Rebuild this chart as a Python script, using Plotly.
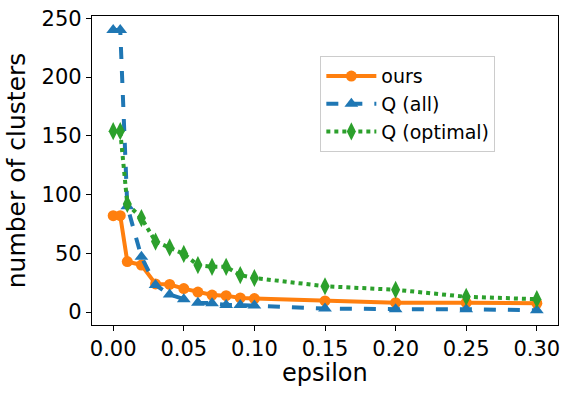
import plotly.graph_objects as go

epsilon = [0, 0.005, 0.01, 0.02, 0.03, 0.04, 0.05, 0.06, 0.07, 0.08, 0.09, 0.1, 0.15, 0.2, 0.25, 0.3]
ours = [82, 82, 43, 40, 24, 23.5, 20, 17, 14.5, 14, 12, 11.5, 9.5, 8, 8, 7.5]
q_all = [240, 240, 90, 47, 23, 15, 11, 8, 7.5, 6, 6, 5.5, 3, 2.5, 2.5, 1.5]
q_optimal = [154, 154, 92, 80, 60, 55, 49.5, 40, 38.5, 38.5, 31.5, 29, 22, 19, 13, 11]

fig = go.Figure()

fig.add_trace(go.Scatter(
    x=epsilon, y=ours, name="ours", mode="lines+markers",
    line=dict(color="#ff7f0e", width=4),
    marker=dict(symbol="circle", size=11, color="#ff7f0e"),
))
fig.add_trace(go.Scatter(
    x=epsilon, y=q_all, name="Q (all)", mode="lines+markers",
    line=dict(color="#1f77b4", width=4, dash="dash"),
    marker=dict(symbol="triangle-up", size=12, color="#1f77b4"),
))
fig.add_trace(go.Scatter(
    x=epsilon, y=q_optimal, name="Q (optimal)", mode="lines+markers",
    line=dict(color="#2ca02c", width=4, dash="dot"),
    marker=dict(symbol="diamond-tall", size=13, color="#2ca02c"),
))

axis_style = dict(
    showline=True, linecolor="black", linewidth=1.3, mirror=True,
    ticks="outside", ticklen=5, tickwidth=1.2, tickcolor="black",
    showgrid=False, zeroline=False, automargin=False,
    tickfont=dict(size=21, color="black"),
)

fig.update_xaxes(
    range=[-0.015, 0.315], tickvals=[0, 0.05, 0.1, 0.15, 0.2, 0.25, 0.3],
    ticktext=["0.00", "0.05", "0.10", "0.15", "0.20", "0.25", "0.30"],
    **axis_style,
)
fig.update_yaxes(
    range=[-11, 252], tickvals=[0, 50, 100, 150, 200, 250],
    title=dict(text="number of clusters", font=dict(size=25, color="black"), standoff=8),
    **axis_style,
)

# x title as an annotation so it can sit a little closer to the tick labels
fig.add_annotation(
    text="epsilon", xref="paper", yref="paper", x=0.5, y=0,
    xanchor="center", yanchor="middle", yshift=-48, showarrow=False,
    font=dict(size=24, color="black"),
)

fig.update_layout(
    width=570, height=393,
    margin=dict(l=92, r=12, t=16, b=68),
    plot_bgcolor="white", paper_bgcolor="white",
    font=dict(family="DejaVu Sans", color="black"),
    legend=dict(
        x=0.49, y=0.87, xanchor="left", yanchor="top",
        bordercolor="#cccccc", borderwidth=1, bgcolor="white",
        font=dict(size=19), itemwidth=50, tracegroupgap=2,
    ),
)

# the page's default body margin would shift the figure by 8px
fig.write_html(
    "out.html",
    config={"displayModeBar": False},
    post_script="document.body.style.margin='0px';",
)
